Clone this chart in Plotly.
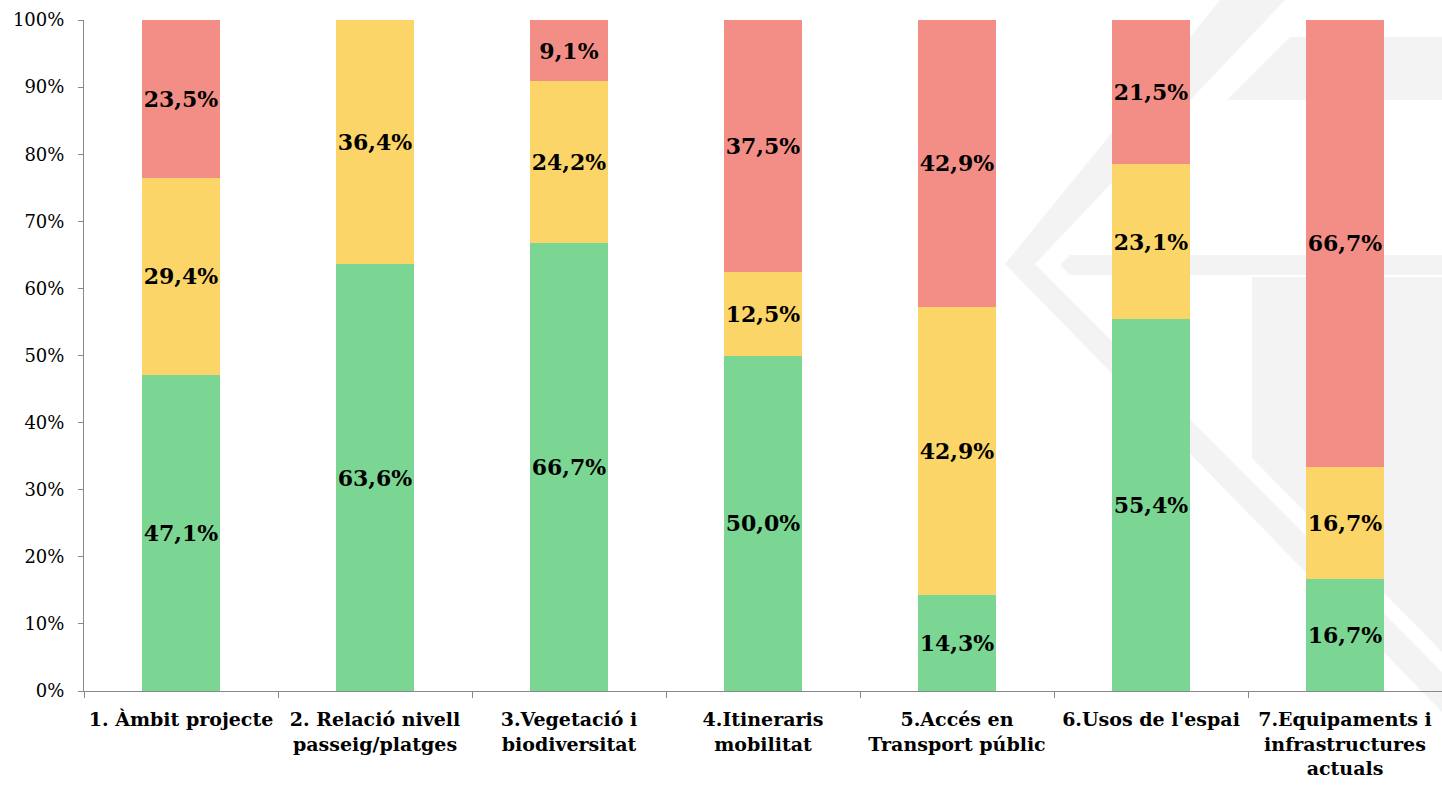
import plotly.graph_objects as go

categories = [
    "1. Àmbit projecte",
    "2. Relació nivell<br>passeig/platges",
    "3.Vegetació i<br>biodiversitat",
    "4.Itineraris<br>mobilitat",
    "5.Accés en<br>Transport públic",
    "6.Usos de l'espai",
    "7.Equipaments i<br>infrastructures<br>actuals",
]
green_vals = [47.1, 63.6, 66.7, 50.0, 14.3, 55.4, 16.7]
yellow_vals = [29.4, 36.4, 24.2, 12.5, 42.9, 23.1, 16.7]
red_vals = [23.5, 0.0, 9.1, 37.5, 42.9, 21.5, 66.7]
y_ticks = [0, 10, 20, 30, 40, 50, 60, 70, 80, 90, 100]

W, H = 1442, 788
L, R, T, B = 84, 0, 20, 97

def fmt(v):
    return "" if v == 0 else f"{v:.1f}".replace(".", ",") + "%"

series = [
    ("Verd", green_vals, "#7BD693"),
    ("Groc", yellow_vals, "#FCD568"),
    ("Vermell", red_vals, "#F28E86"),
]

fig = go.Figure()
for name, vals, col in series:
    fig.add_trace(go.Bar(
        x=categories, y=vals, name=name,
        marker=dict(color=col, line=dict(width=0)),
        text=[fmt(v) for v in vals],
        textposition="inside", insidetextanchor="middle",
        constraintext="none", textangle=0,
        textfont=dict(family="DejaVu Serif", size=22, color="black", weight="bold"),
        width=0.4, hoverinfo="skip",
    ))

# watermark (pixel coords -> paper coords)
pw = W - L - R
ph = H - T - B
def P(x, y):
    return (x - L) / pw, (H - B - y) / ph

def path(pts):
    s = ""
    for i, (x, y) in enumerate(pts):
        px, py = P(x, y)
        s += ("M" if i == 0 else "L") + f"{px:.5f},{py:.5f} "
    return s + "Z"

wm = "#F3F3F3"
polys = [
    [(1220, 0), (1285, 0), (1035, 264), (1442, 672), (1442, 712), (1005, 264)],
    [(1070, 255), (1442, 255), (1442, 275), (1070, 275), (1060, 265)],
    [(1290, 37), (1442, 37), (1442, 100), (1227, 100)],
    [(1252, 277), (1442, 277), (1442, 652), (1252, 458)],
]
shapes = [dict(type="path", xref="paper", yref="paper", path=path(p),
               fillcolor=wm, line=dict(width=0), layer="below") for p in polys]

fig.update_layout(
    barmode="stack",
    width=W, height=H,
    margin=dict(l=L, r=R, t=T, b=B, pad=0),
    plot_bgcolor="rgba(0,0,0,0)", paper_bgcolor="white",
    showlegend=False,
    shapes=shapes,
    xaxis=dict(
        type="category",
        showline=True, linecolor="#888888", linewidth=1,
        ticks="outside", tickson="boundaries", ticklen=6, tickcolor="#888888",
        ticklabelstandoff=11,
        tickfont=dict(family="DejaVu Serif", size=19, color="black", weight="bold"),
        showgrid=False, zeroline=False,
    ),
    yaxis=dict(
        range=[0, 100],
        tickvals=y_ticks, ticktext=[f"{v}%" for v in y_ticks],
        showline=True, linecolor="#888888", linewidth=1,
        ticks="outside", ticklen=5, tickcolor="#888888",
        ticklabelstandoff=10,
        tickfont=dict(family="DejaVu Serif", size=18, color="black"),
        showgrid=False, zeroline=False,
    ),
)

fig.write_html(
    "out.html",
    config={"displayModeBar": False},
    post_script="document.body.style.margin='0';document.body.style.overflow='hidden';",
)
